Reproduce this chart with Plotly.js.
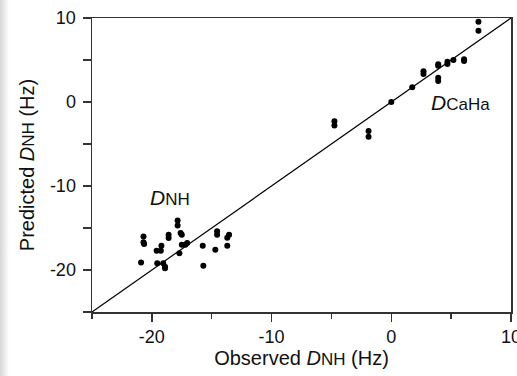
<!DOCTYPE html>
<html>
<head>
<meta charset="utf-8">
<script src="https://cdn.plot.ly/plotly-3.0.1.min.js"></script>
<style>
html, body { margin: 0; padding: 0; width: 517px; height: 376px; overflow: hidden;
  background: linear-gradient(to right, #d6d6d6 0px, #ececec 5px, #ffffff 9px); }
#chart { width: 517px; height: 376px; }
</style>
</head>
<body>
<div id="chart"></div>
<script>
// Backbone N-H residual dipolar couplings (observed vs predicted, Hz)
const nhObserved = [-20.7, -20.7, -20.65, -20.9, -19.6, -19.25, -19.2, -19.55, -19.05, -18.9, -18.9,
  -18.6, -18.6, -17.85, -17.85, -17.6, -17.5, -17.7, -17.5, -17.2, -17.05,
  -15.75, -15.7, -14.55, -14.55, -14.7, -13.7, -13.55, -13.7];
const nhPredicted = [-16.0, -16.7, -16.9, -19.1, -17.7, -17.7, -17.1, -19.2, -19.2, -19.6, -19.8,
  -15.8, -16.2, -14.1, -14.7, -15.6, -15.8, -18.0, -17.0, -17.0, -16.8,
  -17.1, -19.5, -15.4, -15.8, -17.6, -16.15, -15.8, -17.1];

// CaHa couplings (scaled to NH)
const cahaObserved = [7.28, 7.28, 6.08, 6.08, 5.19, 4.69, 4.69, 3.92, 3.92, 3.92, 3.92,
  2.69, 2.69, 1.75, 0.0, -4.75, -4.75, -1.9, -1.9];
const cahaPredicted = [9.56, 8.49, 5.08, 4.88, 5.0, 4.8, 4.52, 4.48, 4.32, 2.9, 2.5,
  3.65, 3.33, 1.75, 0.0, -2.3, -2.8, -3.45, -4.15];

// identity line y = x over the axis range
const identityLine = [-25, 10];

const axisRange = [-25, 10];
const xMajorTicks = [-20, -10, 0, 10];
const xMajorLabels = ['-20', '-10', '0', '10'];
const xMinorTicks = [-25, -15, -5, 5];
const yTickValues = [-25, -20, -15, -10, -5, 0, 5, 10];
const yTickLabels = ['', '-20', '', '-10', '', '0', '', '10'];

const fontFamily = '"Liberation Sans", Arial, Helvetica, sans-serif';
const sub = (s) => '<span style="font-size:17px">' + s + '</span>';

const traces = [
  { x: identityLine, y: identityLine, mode: 'lines', type: 'scatter',
    line: { color: '#000', width: 1.2 }, hoverinfo: 'skip', showlegend: false },
  { x: nhObserved, y: nhPredicted, mode: 'markers', type: 'scatter', name: 'D_NH',
    marker: { color: '#000', size: 6 }, showlegend: false },
  { x: cahaObserved, y: cahaPredicted, mode: 'markers', type: 'scatter', name: 'D_CaHa',
    marker: { color: '#000', size: 6 }, showlegend: false }
];

const axisCommon = {
  range: axisRange,
  tickmode: 'array',
  ticks: 'outside',
  ticklen: 8,
  tickwidth: 1.3,
  tickcolor: '#333',
  showline: true,
  linecolor: '#333',
  linewidth: 1.5,
  mirror: true,
  showgrid: false,
  zeroline: false,
  ticklabeloverflow: 'allow',
  tickfont: { family: fontFamily, size: 18, color: '#111' },
  fixedrange: true
};

const layout = {
  width: 517, height: 376,
  margin: { l: 92, r: 6, t: 18, b: 64 },
  paper_bgcolor: 'rgba(0,0,0,0)',
  plot_bgcolor: '#fff',
  font: { family: fontFamily, color: '#111' },
  xaxis: Object.assign({}, axisCommon, {
    tickvals: xMajorTicks,
    ticktext: xMajorLabels,
    minor: { tickmode: 'array', tickvals: xMinorTicks, ticks: 'outside', ticklen: 5, tickwidth: 1.3, tickcolor: '#333' },
    title: { text: 'Observed <i>D</i>' + sub('NH') + ' (Hz)', font: { family: fontFamily, size: 20, color: '#111' }, standoff: 0 }
  }),
  yaxis: Object.assign({}, axisCommon, {
    tickvals: yTickValues,
    ticktext: yTickLabels,
    ticklabelstandoff: 3,
    title: { text: 'Predicted <i>D</i>' + sub('NH') + ' (Hz)', font: { family: fontFamily, size: 20, color: '#111' }, standoff: 10 }
  }),
  annotations: [
    { x: -18.5, y: -11.4, xref: 'x', yref: 'y', text: '<i>D</i>' + sub('NH'), showarrow: false,
      font: { family: fontFamily, size: 21, color: '#111' }, xanchor: 'center', yanchor: 'middle' },
    { x: 5.75, y: -0.1, xref: 'x', yref: 'y', text: '<i>D</i>' + sub('CaHa'), showarrow: false,
      font: { family: fontFamily, size: 21, color: '#111' }, xanchor: 'center', yanchor: 'middle' }
  ]
};

Plotly.newPlot('chart', traces, layout, { displayModeBar: false, staticPlot: true });
</script>
</body>
</html>
